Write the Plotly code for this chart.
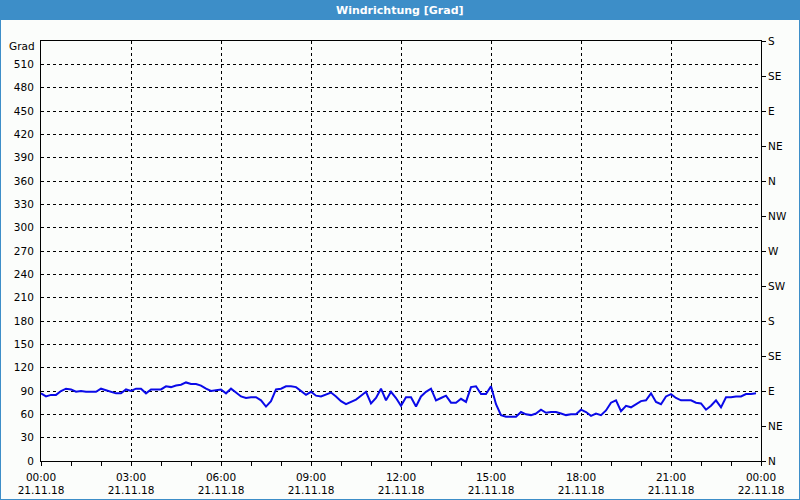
import pandas as pd
import plotly.graph_objects as go

# ---- data (10-minute samples, 21.11.18 00:00 .. 23:50) ----
wind_deg = [
    87, 83, 85, 85, 90, 93, 92, 89, 90, 89, 89, 89, 93, 91, 90, 87, 87, 92, 90, 93,
    93, 87, 92, 92, 92, 96, 95, 97, 98, 101, 99, 99, 97, 93, 90, 91, 92, 87, 93, 88,
    83, 81, 82, 82, 78, 70, 77, 92, 93, 96, 96, 95,
    90, 85, 89, 84, 83, 86, 88, 83, 77, 73, 76, 79, 84, 89, 74, 81, 93, 78, 89, 81,
    71, 82, 82, 70, 83, 89, 93, 78, 81, 84, 75, 75, 80, 76, 95, 96, 86, 86, 96, 73,
    59, 57, 57, 57, 63, 60, 59, 61, 66, 62, 63, 63,
    61, 59, 60, 60, 66, 63, 58, 61, 59, 65, 75, 78, 64, 71, 69, 73, 77, 78, 87, 76,
    73, 83, 86, 81, 78, 78, 78, 75, 74, 66, 71, 78, 69, 82, 82, 83, 83, 86, 86, 87,
]
times = pd.date_range("2018-11-21 00:00", periods=len(wind_deg), freq="10min")

left_ticks = list(range(0, 511, 30))
right_ticks = list(range(0, 541, 45))
right_labels = ["N", "NE", "E", "SE", "S", "SW", "W", "NW", "N", "NE", "E", "SE", "S"]
x_tickvals = pd.date_range("2018-11-21 00:00", "2018-11-22 00:00", freq="3h")
x_ticktext = [
    "00:00<br>21.11.18", "03:00<br>21.11.18", "06:00<br>21.11.18", "09:00<br>21.11.18",
    "12:00<br>21.11.18", "15:00<br>21.11.18", "18:00<br>21.11.18", "21:00<br>21.11.18",
    "00:00<br>22.11.18",
]
title_text = "Windrichtung [Grad]"
unit_label = "Grad"

FONT = "DejaVu Sans"
BLUE_BAR = "#3d8ec8"

fig = go.Figure()
fig.add_trace(go.Scatter(
    x=times, y=wind_deg, mode="lines",
    line=dict(color="#0a0ae8", width=2),
    showlegend=False, hoverinfo="skip",
))
# invisible trace to activate the right axis
fig.add_trace(go.Scatter(x=[times[0]], y=[0], yaxis="y2", mode="markers",
                         marker=dict(opacity=0), showlegend=False, hoverinfo="skip"))

fig.update_layout(
    width=800, height=500,
    margin=dict(l=41, r=39, t=41, b=39),
    paper_bgcolor="#fbfdfb", plot_bgcolor="#fbfdfb",
    font=dict(family=FONT, size=10.5, color="#000000"),
    xaxis=dict(
        type="date", automargin=False,
        range=[x_tickvals[0], x_tickvals[-1]],
        tickvals=x_tickvals, ticktext=x_ticktext,
        showgrid=True, gridcolor="#000000", griddash="3px,3px", gridwidth=1,
        showline=True, linecolor="#000000", linewidth=1, mirror=True,
        ticks="outside", ticklen=4, tickcolor="#000000", ticklabelstandoff=2,
        minor=dict(dtick=3600000, ticks="outside", ticklen=4, tickcolor="#000000", showgrid=False),
        zeroline=False,
    ),
    yaxis=dict(
        range=[0, 540], automargin=False,
        tickvals=left_ticks,
        showgrid=True, gridcolor="#000000", griddash="3px,3px", gridwidth=1,
        showline=True, linecolor="#000000", linewidth=1, mirror=True,
        ticks="", ticklabelstandoff=4,
        zeroline=False,
    ),
    yaxis2=dict(
        overlaying="y", side="right", range=[0, 540], automargin=False,
        tickvals=right_ticks, ticktext=right_labels,
        showgrid=False, showline=True, linecolor="#000000", linewidth=1,
        ticks="outside", ticklen=4, tickcolor="#000000",
        zeroline=False,
    ),
)

# title bar and window border
fig.add_shape(type="rect", xref="paper", yref="paper",
              x0=-41 / 720, x1=759 / 720, y0=(461 - 20) / 420, y1=461 / 420,
              fillcolor=BLUE_BAR, line=dict(width=0), layer="below")
fig.add_shape(type="rect", xref="paper", yref="paper",
              x0=-41 / 720, x1=759 / 720, y0=(461 - 500) / 420, y1=461 / 420,
              fillcolor="rgba(0,0,0,0)", line=dict(color=BLUE_BAR, width=2))
fig.add_annotation(text="<b>" + title_text + "</b>", xref="paper", yref="paper",
                   x=(400 - 41) / 720, y=(461 - 10) / 420, showarrow=False,
                   xanchor="center", yanchor="middle",
                   font=dict(family=FONT, size=11, color="#ffffff"))
fig.add_annotation(text=unit_label, xref="paper", yref="paper",
                   x=-4 / 720, y=(461 - 46) / 420, showarrow=False,
                   xanchor="right", yanchor="middle",
                   font=dict(family=FONT, size=10.5, color="#000000"))

fig.write_html("out.html")
